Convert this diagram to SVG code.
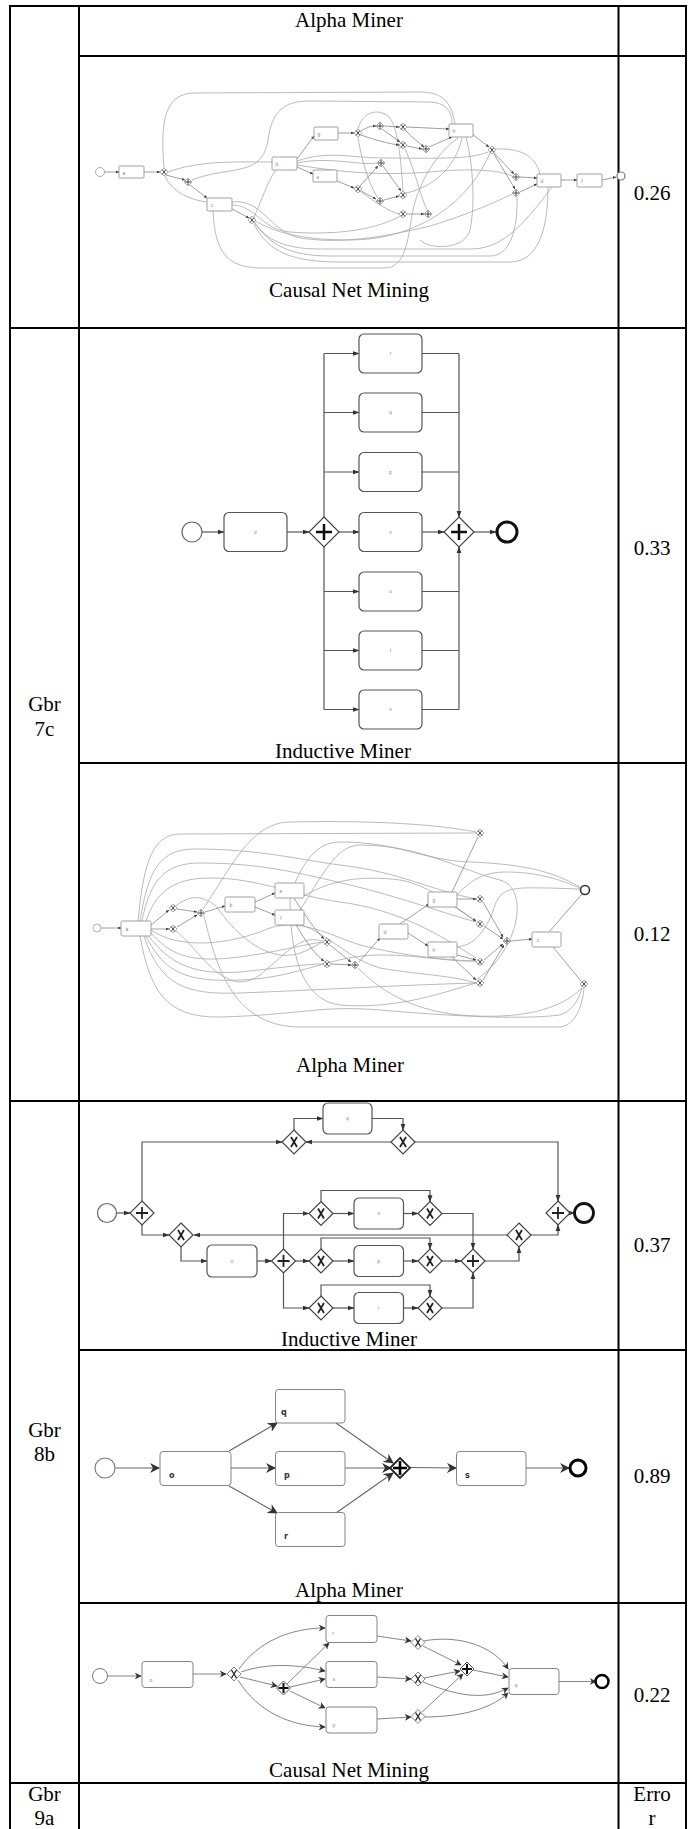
<svg xmlns="http://www.w3.org/2000/svg" width="694" height="1829" viewBox="0 0 694 1829">
<style>
.grid{stroke:#000;stroke-width:2;fill:none}
.t{font-family:"Liberation Serif","Times New Roman",serif;font-size:21px;fill:#000;text-anchor:middle}
.tn{font-family:"Liberation Sans",Arial,sans-serif;font-size:5px;fill:#888;text-anchor:middle}
.tb{font-family:"DejaVu Sans","Liberation Sans",sans-serif;font-size:8px;font-weight:bold;fill:#333}
.c1{fill:none;stroke:#a8a8a8;stroke-width:0.8}
.k1{fill:none;stroke:#888;stroke-width:0.8}
.b1{fill:#fff;stroke:#8a8a8a;stroke-width:0.8}
.e2{fill:none;stroke:#555;stroke-width:1.2}
.b2{fill:#fff;stroke:#555;stroke-width:1.2}
.g2{fill:#fff;stroke:#444;stroke-width:1.2}
.m2{fill:none;stroke:#111;stroke-width:2.5}
.m3{fill:none;stroke:#222;stroke-width:1.8}
.e5{fill:none;stroke:#666;stroke-width:1.1}
.e6{fill:none;stroke:#777;stroke-width:0.9}
.b6{fill:#fff;stroke:#777;stroke-width:0.9}
.sg{fill:#fff;stroke:#888;stroke-width:0.7}
.sm{fill:none;stroke:#333;stroke-width:0.9}
</style>
<defs>
<marker id="a1" viewBox="0 0 10 10" refX="9" refY="5" markerWidth="7" markerHeight="7" markerUnits="userSpaceOnUse" orient="auto"><path d="M0,1.5 L10,5 L0,8.5 z" fill="#333"/></marker>
<marker id="a0" viewBox="0 0 10 10" refX="9" refY="5" markerWidth="3.5" markerHeight="3.5" markerUnits="userSpaceOnUse" orient="auto"><path d="M0,1 L10,5 L0,9 z" fill="#444"/></marker>
<marker id="a2" viewBox="0 0 10 10" refX="9" refY="5" markerWidth="10" markerHeight="10" markerUnits="userSpaceOnUse" orient="auto"><path d="M0,0 L10,5 L0,10 L3,5 z" fill="#333"/></marker>
<marker id="a3" viewBox="0 0 10 10" refX="9" refY="5" markerWidth="7" markerHeight="7" markerUnits="userSpaceOnUse" orient="auto"><path d="M0,0 L10,5 L0,10 L3,5 z" fill="#333"/></marker>
<g id="and15"><path class="g2" d="M0,-15 L15,0 L0,15 L-15,0 z"/><path class="m2" d="M-8,0 H8 M0,-8 V8"/></g>
<g id="and12"><path class="g2" d="M0,-12 L12,0 L0,12 L-12,0 z"/><path class="m3" d="M-6,0 H6 M0,-6 V6"/></g>
<g id="xor12"><path class="g2" d="M0,-12 L12,0 L0,12 L-12,0 z"/><path class="m3" d="M-3,-5 L3,5 M3,-5 L-3,5"/></g>
<g id="and10t"><path fill="#fff" stroke="#222" stroke-width="1.8" d="M0,-10 L10,0 L0,10 L-10,0 z"/><path fill="none" stroke="#000" stroke-width="2.6" d="M-7,0 H7 M0,-7 V7"/></g>
<g id="sx"><path class="sg" d="M0,-4 L4,0 L0,4 L-4,0 z"/><path class="sm" d="M-2,-2.5 L2,2.5 M2,-2.5 L-2,2.5"/></g>
<g id="sp"><path class="sg" d="M0,-4 L4,0 L0,4 L-4,0 z"/><path class="sm" d="M-3,0 H3 M0,-3 V3"/></g>
<g id="mx"><path fill="#fff" stroke="#777" stroke-width="0.9" d="M0,-7 L7,0 L0,7 L-7,0 z"/><path fill="none" stroke="#222" stroke-width="1.3" d="M-2.5,-4 L2.5,4 M2.5,-4 L-2.5,4"/></g>
<g id="mp"><path fill="#fff" stroke="#555" stroke-width="1" d="M0,-7 L7,0 L0,7 L-7,0 z"/><path fill="none" stroke="#111" stroke-width="2" d="M-5,0 H5 M0,-5 V5"/></g>
</defs>

<g id="table">
<path class="grid" d="M10,5 V1829 M79,6 V1829 M618.5,6 V1829 M686,5 V1829"/>
<path class="grid" d="M9,6 H687 M79,56 H686 M9,328 H687 M79,763 H686 M9,1101 H687 M79,1350 H686 M79,1603 H686 M9,1783 H687"/>
</g>

<g id="labels">
<text class="t" x="349" y="27">Alpha Miner</text>
<text class="t" x="349" y="297">Causal Net Mining</text>
<text class="t" x="343" y="758">Inductive Miner</text>
<text class="t" x="350" y="1072">Alpha Miner</text>
<text class="t" x="349" y="1346">Inductive Miner</text>
<text class="t" x="349" y="1597">Alpha Miner</text>
<text class="t" x="349" y="1777">Causal Net Mining</text>
<text class="t" x="652" y="200">0.26</text>
<text class="t" x="652" y="555">0.33</text>
<text class="t" x="652" y="941">0.12</text>
<text class="t" x="652" y="1252">0.37</text>
<text class="t" x="652" y="1483">0.89</text>
<text class="t" x="652" y="1702">0.22</text>
<text class="t" x="652" y="1801">Erro</text>
<text class="t" x="652" y="1825">r</text>
<text class="t" x="44.5" y="711">Gbr</text>
<text class="t" x="44.5" y="736">7c</text>
<text class="t" x="44.5" y="1437">Gbr</text>
<text class="t" x="44.5" y="1461">8b</text>
<text class="t" x="44.5" y="1801">Gbr</text>
<text class="t" x="44.5" y="1825">9a</text>
</g>

<!-- Diagram 1: Causal Net Mining (row 1) -->
<g id="d1-connectors">
<path class="c1" d="M164,168 C160,120 165,93 195,93 L420,92 C445,92 452,105 455,124"/>
<path class="c1" d="M192,180 C230,165 262,178 268,140 C272,110 285,101 310,101 L430,102 C447,103 452,112 452,124"/>
<path class="c1" d="M168,172 C200,160 240,162 272,162"/>
<path class="c1" d="M165,176 C172,192 190,200 207,202"/>
<path class="c1" d="M254,217 C262,200 268,180 276,170"/>
<path class="c1" d="M358,137 C362,165 372,190 378,198"/>
<path class="c1" d="M358,129 C362,112 378,108 388,116 C398,125 401,160 403,191"/>
<path class="c1" d="M361,192 C375,202 390,212 399,214"/>
<path class="c1" d="M297,163 C330,156 360,166 377,163"/>
<path class="c1" d="M406,193 C430,188 455,170 462,138"/>
<path class="c1" d="M405,149 C415,170 421,198 427,210"/>
<path class="c1" d="M213,211 C215,250 225,268 262,268 L385,268 C405,268 408,240 412,215 C418,180 440,150 458,138"/>
<path class="c1" d="M297,161 C330,150 350,158 385,158 C430,158 470,160 488,152"/>
<path class="c1" d="M297,165 C340,172 380,176 430,172 C470,168 500,170 512,176"/>
<path class="c1" d="M232,202 C262,198 270,232 300,238 C340,244 380,238 430,226 C470,214 500,200 512,194"/>
<path class="c1" d="M255,223 C270,245 290,256 330,256 L490,256 C510,256 518,230 517,197"/>
<path class="c1" d="M254,224 C268,252 292,262 340,262 L510,262 C540,262 548,225 548,187"/>
<path class="c1" d="M255,221 C275,232 300,240 350,240 C420,240 470,200 490,153"/>
<path class="c1" d="M232,205 C255,205 262,230 290,232 C340,236 380,228 400,216"/>
<path class="c1" d="M495,149 C520,148 535,155 540,174"/>
<path class="c1" d="M254,222 C266,240 285,249 320,249 L470,249 C500,249 520,230 552,187"/>
<path class="c1" d="M466,137 C472,160 476,200 470,230 C465,250 430,250 420,240"/>
<path class="k1" marker-end="url(#a0)" d="M104.5,172 L119,172"/>
<path class="k1" marker-end="url(#a0)" d="M144,172 L160,172"/>
<path class="k1" marker-end="url(#a0)" d="M166,175 L185,180"/>
<path class="k1" marker-end="url(#a0)" d="M190,185 L207,198"/>
<path class="k1" marker-end="url(#a0)" d="M232,209 L249,218"/>
<path class="k1" marker-end="url(#a0)" d="M297,159 L314,136"/>
<path class="k1" marker-end="url(#a0)" d="M297,167 L313,174"/>
<path class="k1" marker-end="url(#a0)" d="M338,133 L354,133"/>
<path class="k1" marker-end="url(#a0)" d="M361,131 C367,127 372,126 376,126"/>
<path class="k1" marker-end="url(#a0)" d="M384,126 L399,127"/>
<path class="k1" marker-end="url(#a0)" d="M407,127 L449,129"/>
<path class="k1" marker-end="url(#a0)" d="M361,135 C375,140 390,144 399,145"/>
<path class="k1" marker-end="url(#a0)" d="M407,146 L422,149"/>
<path class="k1" marker-end="url(#a0)" d="M429,147 L452,137"/>
<path class="k1" marker-end="url(#a0)" d="M382,129 L400,142"/>
<path class="k1" marker-end="url(#a0)" d="M405,130 C412,137 419,143 424,147"/>
<path class="k1" marker-end="url(#a0)" d="M337,181 L354,188"/>
<path class="k1" marker-end="url(#a0)" d="M361,191 L376,199"/>
<path class="k1" marker-end="url(#a0)" d="M384,200 L399,196"/>
<path class="k1" marker-end="url(#a0)" d="M407,214 L424,214"/>
<path class="k1" marker-end="url(#a0)" d="M383,166 L401,191"/>
<path class="k1" marker-end="url(#a0)" d="M360,186 L378,166"/>
<path class="k1" marker-end="url(#a0)" d="M472,134 L489,147"/>
<path class="k1" marker-end="url(#a0)" d="M494,153 L514,174"/>
<path class="k1" marker-end="url(#a0)" d="M494,154 L515,189"/>
<path class="k1" marker-end="url(#a0)" d="M520,177 L537,178"/>
<path class="k1" marker-end="url(#a0)" d="M520,192 L537,184"/>
<path class="k1" marker-end="url(#a0)" d="M561,180 L577,180"/>
<path class="k1" marker-end="url(#a0)" d="M602,180 L616,177"/>
</g>
<g id="d1-nodes">
<circle id="d1-start" cx="100" cy="172" r="4.5" fill="#fff" stroke="#999" stroke-width="0.8"/>
<g id="d1-a"><rect class="b1" x="119" y="166" width="25" height="12" rx="1"/><text class="tn" x="124" y="175">a</text></g>
<g id="d1-c"><rect class="b1" x="207" y="198" width="25" height="13" rx="1"/><text class="tn" x="212" y="207">c</text></g>
<g id="d1-b"><rect class="b1" x="272" y="157" width="25" height="13" rx="1"/><text class="tn" x="277" y="166">b</text></g>
<g id="d1-g"><rect class="b1" x="314" y="127" width="24" height="13" rx="1"/><text class="tn" x="319" y="136">g</text></g>
<g id="d1-e"><rect class="b1" x="313" y="170" width="24" height="12" rx="1"/><text class="tn" x="318" y="179">e</text></g>
<g id="d1-h"><rect class="b1" x="449" y="124" width="24" height="13" rx="1"/><text class="tn" x="454" y="133">h</text></g>
<g id="d1-d"><rect class="b1" x="537" y="174" width="24" height="13" rx="1"/><text class="tn" x="542" y="183">d</text></g>
<g id="d1-f"><rect class="b1" x="577" y="174" width="25" height="13" rx="1"/><text class="tn" x="582" y="183">f</text></g>
<circle id="d1-end" cx="621" cy="176" r="4" fill="#fff" stroke="#777" stroke-width="1.2"/>
<g id="d1-gw1"><use href="#sx" transform="translate(164,172)"/></g>
<g id="d1-gw2"><use href="#sp" transform="translate(188,182)"/></g>
<g id="d1-gw3"><use href="#sx" transform="translate(252,220)"/></g>
<g id="d1-gwA"><use href="#sx" transform="translate(358,133)"/></g>
<g id="d1-gwB"><use href="#sp" transform="translate(380,126)"/></g>
<g id="d1-gwC"><use href="#sx" transform="translate(403,127)"/></g>
<g id="d1-gwD"><use href="#sx" transform="translate(403,145)"/></g>
<g id="d1-gwE"><use href="#sp" transform="translate(426,149)"/></g>
<g id="d1-gwF"><use href="#sp" transform="translate(381,163)"/></g>
<g id="d1-gwG"><use href="#sx" transform="translate(358,189)"/></g>
<g id="d1-gwH"><use href="#sp" transform="translate(380,201)"/></g>
<g id="d1-gwI"><use href="#sx" transform="translate(403,195)"/></g>
<g id="d1-gwJ"><use href="#sx" transform="translate(403,214)"/></g>
<g id="d1-gwK"><use href="#sp" transform="translate(428,214)"/></g>
<g id="d1-gwL"><use href="#sx" transform="translate(492,150)"/></g>
<g id="d1-gwM"><use href="#sp" transform="translate(516,177)"/></g>
<g id="d1-gwN"><use href="#sp" transform="translate(516,193)"/></g>
</g>

<!-- Diagram 2: Inductive Miner 7c -->
<g id="d2-connectors">
<path class="e2" marker-end="url(#a1)" d="M202,532 H224"/>
<path class="e2" marker-end="url(#a1)" d="M287,532 H309"/>
<path class="e2" d="M324,517 V353.5 M324,547 V709.5"/>
<path class="e2" marker-end="url(#a1)" d="M324,353.5 H359"/>
<path class="e2" marker-end="url(#a1)" d="M324,412.5 H359"/>
<path class="e2" marker-end="url(#a1)" d="M324,472 H359"/>
<path class="e2" marker-end="url(#a1)" d="M339,532 H359"/>
<path class="e2" marker-end="url(#a1)" d="M324,591.5 H359"/>
<path class="e2" marker-end="url(#a1)" d="M324,650.5 H359"/>
<path class="e2" marker-end="url(#a1)" d="M324,709.5 H359"/>
<path class="e2" d="M422,353.5 H459 M422,412.5 H459 M422,472 H459 M422,591.5 H459 M422,650.5 H459 M422,709.5 H459"/>
<path class="e2" marker-end="url(#a1)" d="M459,353.5 V517"/>
<path class="e2" marker-end="url(#a1)" d="M459,709.5 V547"/>
<path class="e2" marker-end="url(#a1)" d="M422,532 H444"/>
<path class="e2" marker-end="url(#a1)" d="M474,532 H496"/>
</g>
<g id="d2-nodes">
<circle id="d2-start" cx="192" cy="532" r="10" fill="#fff" stroke="#666" stroke-width="1.2"/>
<g id="d2-o"><rect class="b2" x="224" y="512.5" width="63" height="39" rx="5"/><text class="tn" x="255.5" y="534">o</text></g>
<g id="d2-and1"><use href="#and15" transform="translate(324,532)"/></g>
<g id="d2-r"><rect class="b2" x="359" y="334" width="63" height="39" rx="5"/><text class="tn" x="390.5" y="355">r</text></g>
<g id="d2-q"><rect class="b2" x="359" y="393" width="63" height="39" rx="5"/><text class="tn" x="390.5" y="414">q</text></g>
<g id="d2-p"><rect class="b2" x="359" y="452.5" width="63" height="39" rx="5"/><text class="tn" x="390.5" y="474">p</text></g>
<g id="d2-v"><rect class="b2" x="359" y="512.5" width="63" height="39" rx="5"/><text class="tn" x="390.5" y="534">v</text></g>
<g id="d2-u"><rect class="b2" x="359" y="572" width="63" height="39" rx="5"/><text class="tn" x="390.5" y="593">u</text></g>
<g id="d2-t"><rect class="b2" x="359" y="631" width="63" height="39" rx="5"/><text class="tn" x="390.5" y="652">t</text></g>
<g id="d2-s"><rect class="b2" x="359" y="690" width="63" height="39" rx="5"/><text class="tn" x="390.5" y="711">s</text></g>
<g id="d2-and2"><use href="#and15" transform="translate(459,532)"/></g>
<circle id="d2-end" cx="507" cy="532" r="10" fill="#fff" stroke="#111" stroke-width="3"/>
</g>

<!-- Diagram 3: Alpha Miner 7c -->
<g id="d3-connectors">
<path class="c1" d="M138,921 C143,870 150,834 180,834 L476,833"/>
<path class="c1" d="M140,921 C148,870 160,849 195,849 C260,849 300,860 340,865 C400,872 430,890 476,899"/>
<path class="c1" d="M142,921 C150,880 165,863 200,863 C260,863 300,873 350,885 C400,897 440,912 476,922"/>
<path class="c1" d="M146,921 C155,895 170,878 210,878 C260,878 290,895 340,902 C400,910 440,935 476,958"/>
<path class="c1" d="M150,932 C170,955 190,962 230,958 C270,954 300,945 323,942"/>
<path class="c1" d="M148,935 C170,965 195,975 240,972 C280,968 305,964 323,964"/>
<path class="c1" d="M146,936 C165,975 190,982 240,980 C300,978 330,955 380,955 C420,955 450,962 476,961"/>
<path class="c1" d="M144,936 C160,985 185,995 240,993 C320,990 400,985 476,983"/>
<path class="c1" d="M140,936 C150,990 165,1018 220,1017 C300,1015 320,1005 380,1010 C450,1016 520,1020 560,1015 C575,1010 580,995 582,988"/>
<path class="c1" d="M203,909 C230,870 250,822 290,822 C380,820 440,825 476,832"/>
<path class="c1" d="M204,916 C215,960 230,1027 300,1027 L560,1027 C578,1025 583,1000 584,988"/>
<path class="c1" d="M295,883 C305,860 318,842 340,842 C400,842 420,860 470,862 C520,864 550,870 580,887"/>
<path class="c1" d="M300,910 C320,880 335,845 360,845 C420,845 460,870 500,880 C530,888 520,950 476,980"/>
<path class="c1" d="M457,895 C470,880 485,872 505,872 C540,872 560,880 580,888"/>
<path class="c1" d="M457,947 C480,945 490,920 495,905 C502,885 520,888 550,888 L580,889"/>
<path class="c1" d="M358,968 C380,990 410,1010 460,1015 C520,1020 560,1010 582,988"/>
<path class="c1" d="M290,898 C290,950 300,1000 340,1005 C400,1010 450,990 476,983"/>
<path class="c1" d="M176,931 C200,950 225,1000 260,975 C290,950 300,935 323,941"/>
<path class="c1" d="M176,906 C190,895 200,895 215,905 C230,925 250,950 280,955 C300,958 315,945 323,942"/>
<path class="c1" d="M300,898 C330,880 360,875 400,880 C430,885 460,910 476,922"/>
<path class="c1" d="M151,930 C180,950 230,945 270,928 C300,918 330,935 360,945 C400,955 440,960 476,961"/>
<path class="c1" d="M300,924 C330,935 350,960 380,968 C420,975 450,975 476,983"/>
<path class="k1" marker-end="url(#a0)" d="M101,928 L121,928"/>
<path class="k1" marker-end="url(#a0)" d="M151,925 L169,910"/>
<path class="k1" marker-end="url(#a0)" d="M151,929 L169,929"/>
<path class="k1" marker-end="url(#a0)" d="M177,909 L197,912"/>
<path class="k1" marker-end="url(#a0)" d="M177,927 L197,915"/>
<path class="k1" marker-end="url(#a0)" d="M205,912 L225,906"/>
<path class="k1" marker-end="url(#a0)" d="M255,902 L275,893"/>
<path class="k1" marker-end="url(#a0)" d="M255,907 L275,915"/>
<path class="k1" marker-end="url(#a0)" d="M294,898 C305,915 315,930 324,939"/>
<path class="k1" marker-end="url(#a0)" d="M296,925 C305,940 315,955 324,961"/>
<path class="k1" marker-end="url(#a0)" d="M330,945 L351,962"/>
<path class="k1" marker-end="url(#a0)" d="M331,964 L351,965"/>
<path class="k1" marker-end="url(#a0)" d="M359,962 L380,938"/>
<path class="k1" marker-end="url(#a0)" d="M400,924 L429,904"/>
<path class="k1" marker-end="url(#a0)" d="M408,933 L428,946"/>
<path class="k1" marker-end="url(#a0)" d="M457,899 L476,899"/>
<path class="k1" marker-end="url(#a0)" d="M455,907 L476,921"/>
<path class="k1" marker-end="url(#a0)" d="M457,955 L476,960"/>
<path class="k1" marker-end="url(#a0)" d="M452,957 L476,980"/>
<path class="k1" marker-end="url(#a0)" d="M483,902 L503,937"/>
<path class="k1" marker-end="url(#a0)" d="M484,926 L503,939"/>
<path class="k1" marker-end="url(#a0)" d="M484,960 L503,944"/>
<path class="k1" marker-end="url(#a0)" d="M483,980 L504,945"/>
<path class="k1" marker-end="url(#a0)" d="M511,941 L532,939"/>
<path class="k1" d="M549,932 L582,894"/>
<path class="k1" d="M553,947 L581,981"/>
<path class="k1" d="M452,892 L478,837"/>
</g>
<g id="d3-nodes">
<circle id="d3-start" cx="97" cy="928" r="4" fill="#fff" stroke="#999" stroke-width="0.8"/>
<g id="d3-a"><rect class="b1" x="121" y="921" width="30" height="15" rx="1.5"/><text class="tn" x="127" y="931">a</text></g>
<g id="d3-b"><rect class="b1" x="225" y="897" width="30" height="15" rx="1.5"/><text class="tn" x="231" y="907">b</text></g>
<g id="d3-e"><rect class="b1" x="275" y="883" width="29" height="15" rx="1.5"/><text class="tn" x="281" y="893">e</text></g>
<g id="d3-f"><rect class="b1" x="275" y="910" width="29" height="15" rx="1.5"/><text class="tn" x="281" y="920">f</text></g>
<g id="d3-d"><rect class="b1" x="379" y="924" width="29" height="15" rx="1.5"/><text class="tn" x="385" y="934">d</text></g>
<g id="d3-g"><rect class="b1" x="428" y="892" width="29" height="15" rx="1.5"/><text class="tn" x="434" y="902">g</text></g>
<g id="d3-h"><rect class="b1" x="428" y="942" width="29" height="15" rx="1.5"/><text class="tn" x="434" y="952">h</text></g>
<g id="d3-c"><rect class="b1" x="532" y="932" width="29" height="15" rx="1.5"/><text class="tn" x="538" y="942">c</text></g>
<circle id="d3-end" cx="585" cy="890" r="4.5" fill="#fff" stroke="#333" stroke-width="1.6"/>
<g id="d3-x1"><use href="#sx" transform="translate(173,908)"/></g>
<g id="d3-x2"><use href="#sx" transform="translate(173,929)"/></g>
<g id="d3-p1"><use href="#sp" transform="translate(201,913)"/></g>
<g id="d3-x3"><use href="#sx" transform="translate(327,942)"/></g>
<g id="d3-x4"><use href="#sx" transform="translate(327,964)"/></g>
<g id="d3-p2"><use href="#sp" transform="translate(355,965)"/></g>
<g id="d3-xt"><use href="#sx" transform="translate(480,833)"/></g>
<g id="d3-xg1"><use href="#sx" transform="translate(480,899)"/></g>
<g id="d3-xg2"><use href="#sx" transform="translate(480,924)"/></g>
<g id="d3-xh1"><use href="#sx" transform="translate(480,962)"/></g>
<g id="d3-xh2"><use href="#sx" transform="translate(480,983)"/></g>
<g id="d3-p3"><use href="#sp" transform="translate(507,941)"/></g>
<g id="d3-xe"><use href="#sx" transform="translate(584,984)"/></g>
</g>

<!-- Diagram 4: Inductive Miner 8b -->
<g id="d4-connectors">
<path class="e2" marker-end="url(#a1)" d="M116.5,1213 H130"/>
<path class="e2" marker-end="url(#a1)" d="M142,1201 V1142 H282"/>
<path class="e2" marker-end="url(#a1)" d="M294,1130 V1118.5 H323"/>
<path class="e2" marker-end="url(#a1)" d="M372,1118.5 H403 V1130"/>
<path class="e2" marker-end="url(#a1)" d="M391,1142 H306"/>
<path class="e2" marker-end="url(#a1)" d="M415,1142 H558 V1201"/>
<path class="e2" marker-end="url(#a1)" d="M570,1213 H574.5"/>
<path class="e2" marker-end="url(#a1)" d="M142,1225 V1235 H169"/>
<path class="e2" marker-end="url(#a1)" d="M181,1247 V1261 H207"/>
<path class="e2" marker-end="url(#a1)" d="M257,1261 H271.5"/>
<path class="e2" marker-end="url(#a1)" d="M283.5,1249 V1213.5 H309"/>
<path class="e2" marker-end="url(#a1)" d="M295.5,1261 H309"/>
<path class="e2" marker-end="url(#a1)" d="M283.5,1273 V1308 H309"/>
<path class="e2" marker-end="url(#a1)" d="M333,1213.5 H354"/>
<path class="e2" marker-end="url(#a1)" d="M333,1261 H354"/>
<path class="e2" marker-end="url(#a1)" d="M333,1308 H354"/>
<path class="e2" marker-end="url(#a1)" d="M403.5,1213.5 H418"/>
<path class="e2" marker-end="url(#a1)" d="M403.5,1261 H418"/>
<path class="e2" marker-end="url(#a1)" d="M403.5,1308 H418"/>
<path class="e2" marker-end="url(#a1)" d="M321,1201.5 V1190.5 H430 V1201.5"/>
<path class="e2" marker-end="url(#a1)" d="M321,1249 V1238 H430 V1249"/>
<path class="e2" marker-end="url(#a1)" d="M321,1296 V1285 H430 V1296"/>
<path class="e2" marker-end="url(#a1)" d="M442,1213.5 H473 V1249"/>
<path class="e2" marker-end="url(#a1)" d="M442,1261 H461"/>
<path class="e2" marker-end="url(#a1)" d="M442,1308 H473 V1273"/>
<path class="e2" marker-end="url(#a1)" d="M485,1261 H519 V1247"/>
<path class="e2" marker-end="url(#a1)" d="M507,1235 H194"/>
<path class="e2" marker-end="url(#a1)" d="M531,1235 H558 V1225"/>
</g>
<g id="d4-nodes">
<circle id="d4-start" cx="107" cy="1213" r="9.5" fill="#fff" stroke="#666" stroke-width="1.2"/>
<g id="d4-and1"><use href="#and12" transform="translate(142,1213)"/></g>
<g id="d4-xA"><use href="#xor12" transform="translate(294,1142)"/></g>
<g id="d4-q"><rect class="b2" x="323" y="1103" width="49" height="31" rx="5"/><text class="tn" x="347.5" y="1120">q</text></g>
<g id="d4-xB"><use href="#xor12" transform="translate(403,1142)"/></g>
<g id="d4-andE"><use href="#and12" transform="translate(558,1213)"/></g>
<circle id="d4-end" cx="584" cy="1213" r="9.5" fill="#fff" stroke="#111" stroke-width="2.8"/>
<g id="d4-xC"><use href="#xor12" transform="translate(181,1235)"/></g>
<g id="d4-o"><rect class="b2" x="207" y="1245" width="50" height="32" rx="5"/><text class="tn" x="232" y="1263">o</text></g>
<g id="d4-and2"><use href="#and12" transform="translate(283.5,1261)"/></g>
<g id="d4-xs1"><use href="#xor12" transform="translate(321,1213.5)"/></g>
<g id="d4-xp1"><use href="#xor12" transform="translate(321,1261)"/></g>
<g id="d4-xr1"><use href="#xor12" transform="translate(321,1308)"/></g>
<g id="d4-s"><rect class="b2" x="354" y="1198" width="49.5" height="31" rx="5"/><text class="tn" x="378.7" y="1215">s</text></g>
<g id="d4-p"><rect class="b2" x="354" y="1245.5" width="49.5" height="31" rx="5"/><text class="tn" x="378.7" y="1263">p</text></g>
<g id="d4-r"><rect class="b2" x="354" y="1292.5" width="49.5" height="31" rx="5"/><text class="tn" x="378.7" y="1310">r</text></g>
<g id="d4-xs2"><use href="#xor12" transform="translate(430,1213.5)"/></g>
<g id="d4-xp2"><use href="#xor12" transform="translate(430,1261)"/></g>
<g id="d4-xr2"><use href="#xor12" transform="translate(430,1308)"/></g>
<g id="d4-and3"><use href="#and12" transform="translate(473,1261)"/></g>
<g id="d4-xD"><use href="#xor12" transform="translate(519,1235)"/></g>
</g>

<!-- Diagram 5: Alpha Miner 8b -->
<g id="d5-connectors">
<path class="e5" marker-end="url(#a2)" d="M115.5,1468 H159"/>
<path class="e5" marker-end="url(#a2)" d="M229,1451 L277,1423"/>
<path class="e5" marker-end="url(#a2)" d="M231,1468 H275"/>
<path class="e5" marker-end="url(#a2)" d="M229,1486 L277,1513"/>
<path class="e5" marker-end="url(#a2)" d="M336,1423 L393,1463"/>
<path class="e5" marker-end="url(#a2)" d="M345,1468 H391"/>
<path class="e5" marker-end="url(#a2)" d="M336,1513 L393,1473"/>
<path class="e5" marker-end="url(#a2)" d="M410,1467.5 L456,1468"/>
<path class="e5" marker-end="url(#a2)" d="M526,1468 H569"/>
</g>
<g id="d5-nodes">
<circle id="d5-start" cx="105" cy="1468" r="10" fill="#fff" stroke="#777" stroke-width="1.1"/>
<g id="d5-o"><rect class="b6" x="160" y="1451.5" width="71" height="34" rx="3"/><text class="tb" x="169" y="1478">o</text></g>
<g id="d5-q"><rect class="b6" x="275.5" y="1389.5" width="69.5" height="33.5" rx="3"/><text class="tb" x="281" y="1415">q</text></g>
<g id="d5-p"><rect class="b6" x="275.5" y="1451.5" width="69.5" height="34" rx="3"/><text class="tb" x="284" y="1478">p</text></g>
<g id="d5-r"><rect class="b6" x="275.5" y="1512.5" width="69.5" height="34" rx="3"/><text class="tb" x="284" y="1539">r</text></g>
<g id="d5-and"><use href="#and10t" transform="translate(400,1468)"/></g>
<g id="d5-s"><rect class="b6" x="456.5" y="1451.5" width="69.5" height="34" rx="3"/><text class="tb" x="465" y="1478">s</text></g>
<circle id="d5-end" cx="578" cy="1468" r="8" fill="#fff" stroke="#000" stroke-width="3"/>
</g>

<!-- Diagram 6: Causal Net Mining 8b -->
<g id="d6-connectors">
<path class="e6" marker-end="url(#a3)" d="M107.5,1676 H141"/>
<path class="e6" marker-end="url(#a3)" d="M193,1674 H226"/>
<path class="e6" marker-end="url(#a3)" d="M239,1669 C258,1642 290,1628 325,1628"/>
<path class="e6" marker-end="url(#a3)" d="M241,1672 C270,1662 300,1665 325,1671"/>
<path class="e6" marker-end="url(#a3)" d="M240,1677 L277,1686"/>
<path class="e6" marker-end="url(#a3)" d="M238,1680 C258,1712 290,1726 325,1727"/>
<path class="e6" marker-end="url(#a3)" d="M287,1684 L329,1643"/>
<path class="e6" marker-end="url(#a3)" d="M290,1687 L325,1679"/>
<path class="e6" marker-end="url(#a3)" d="M290,1691 L325,1708"/>
<path class="e6" marker-end="url(#a3)" d="M377,1636 L411,1641"/>
<path class="e6" marker-end="url(#a3)" d="M377,1677 L411,1679"/>
<path class="e6" marker-end="url(#a3)" d="M377,1719 L411,1717"/>
<path class="e6" marker-end="url(#a3)" d="M423,1646 L461,1665"/>
<path class="e6" marker-end="url(#a3)" d="M424,1678 L460,1671"/>
<path class="e6" marker-end="url(#a3)" d="M422,1712 L463,1674"/>
<path class="e6" marker-end="url(#a3)" d="M473,1670 L508,1677"/>
<path class="e6" marker-end="url(#a3)" d="M423,1641 C462,1634 495,1648 508,1669"/>
<path class="e6" marker-end="url(#a3)" d="M423,1682 C453,1694 482,1702 508,1688"/>
<path class="e6" marker-end="url(#a3)" d="M423,1717 C466,1717 493,1707 508,1693"/>
<path class="e6" marker-end="url(#a3)" d="M559,1681.5 H596"/>
</g>
<g id="d6-nodes">
<circle id="d6-start" cx="100" cy="1676" r="7.5" fill="#fff" stroke="#777" stroke-width="1"/>
<g id="d6-o"><rect class="b6" x="142" y="1661.5" width="51" height="26" rx="3"/><text class="tn" x="151" y="1682">o</text></g>
<g id="d6-x1"><use href="#mx" transform="translate(234,1674)"/></g>
<g id="d6-p1"><use href="#mp" transform="translate(283.5,1688)"/></g>
<g id="d6-r"><rect class="b6" x="326" y="1615.5" width="51" height="27" rx="3"/><text class="tn" x="333" y="1635">r</text></g>
<g id="d6-s"><rect class="b6" x="326" y="1661.5" width="51" height="26" rx="3"/><text class="tn" x="334" y="1681">s</text></g>
<g id="d6-p"><rect class="b6" x="326" y="1707" width="51" height="26" rx="3"/><text class="tn" x="334" y="1727">p</text></g>
<g id="d6-xr"><use href="#mx" transform="translate(418,1642.5)"/></g>
<g id="d6-xs"><use href="#mx" transform="translate(418,1679)"/></g>
<g id="d6-xp"><use href="#mx" transform="translate(418,1716.5)"/></g>
<g id="d6-p2"><use href="#mp" transform="translate(467,1669)"/></g>
<g id="d6-q"><rect class="b6" x="509" y="1668.5" width="50" height="26" rx="3"/><text class="tn" x="516" y="1687">q</text></g>
<circle id="d6-end" cx="602" cy="1681.5" r="6.5" fill="#fff" stroke="#000" stroke-width="2.5"/>
</g>
</svg>
